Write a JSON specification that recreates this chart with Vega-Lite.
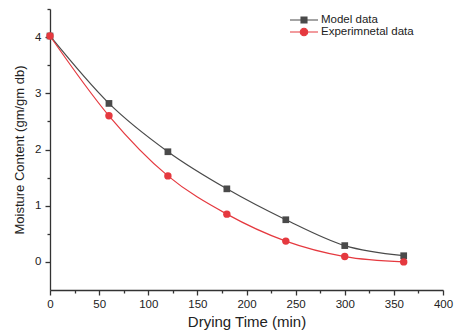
{
  "$schema": "https://vega.github.io/schema/vega-lite/v6.json",
  "width": 393,
  "height": 281,
  "autosize": "none",
  "padding": {"left": 50, "top": 9, "right": 15, "bottom": 46},
  "background": "white",
  "config": {
    "view": {"stroke": null},
    "font": "Liberation Sans",
    "axis": {
      "grid": false,
      "domainColor": "#333333",
      "domainWidth": 1.3,
      "tickColor": "#333333",
      "tickWidth": 1.3,
      "labelFont": "Liberation Sans",
      "labelFontSize": 11.5,
      "labelColor": "#222222",
      "titleFont": "Liberation Sans",
      "titleFontWeight": "normal",
      "titleColor": "#222222",
      "labelOverlap": false,
      "labelFlush": false
    }
  },
  "data": {
    "values": [
      {"t": 0, "mc": 4.02, "series": "Model data"},
      {"t": 60, "mc": 2.82, "series": "Model data"},
      {"t": 120, "mc": 1.96, "series": "Model data"},
      {"t": 180, "mc": 1.30, "series": "Model data"},
      {"t": 240, "mc": 0.75, "series": "Model data"},
      {"t": 300, "mc": 0.29, "series": "Model data"},
      {"t": 360, "mc": 0.11, "series": "Model data"},
      {"t": 0, "mc": 4.02, "series": "Experimnetal data"},
      {"t": 60, "mc": 2.60, "series": "Experimnetal data"},
      {"t": 120, "mc": 1.53, "series": "Experimnetal data"},
      {"t": 180, "mc": 0.85, "series": "Experimnetal data"},
      {"t": 240, "mc": 0.37, "series": "Experimnetal data"},
      {"t": 300, "mc": 0.095, "series": "Experimnetal data"},
      {"t": 360, "mc": 0.0, "series": "Experimnetal data"}
    ]
  },
  "encoding": {
    "x": {
      "field": "t", "type": "quantitative",
      "scale": {"domain": [0, 400], "nice": false, "zero": false},
      "axis": {
        "title": "Drying Time (min)",
        "titleFontSize": 15,
        "values": [0,25,50,75,100,125,150,175,200,225,250,275,300,325,350,375,400],
        "labelExpr": "datum.value % 50 === 0 ? datum.label : ''",
        "tickSize": {"condition": {"test": "datum.value % 50 === 0", "value": 5}, "value": 3},
        "labelPadding": 3,
        "titlePadding": 5
      }
    },
    "y": {
      "field": "mc", "type": "quantitative",
      "scale": {"domain": [-0.5, 4.5], "nice": false, "zero": false},
      "axis": {
        "title": "Moisture Content (gm/gm db)",
        "titleFontSize": 13,
        "values": [0,0.5,1,1.5,2,2.5,3,3.5,4,4.5],
        "format": "~g",
        "labelExpr": "datum.value % 1 === 0 ? datum.label : ''",
        "tickSize": {"condition": {"test": "datum.value % 1 === 0", "value": 5}, "value": 3},
        "labelPadding": 4,
        "titlePadding": 8
      }
    },
    "color": {
      "field": "series", "type": "nominal",
      "scale": {"domain": ["Model data", "Experimnetal data"], "range": ["#4a4a4a", "#e5393f"]}
    }
  },
  "layer": [
    {
      "mark": {"type": "line", "interpolate": "monotone", "strokeWidth": 1.2}
    },
    {
      "transform": [{"filter": "datum.series === 'Model data'"}],
      "mark": {"type": "point", "shape": "square", "filled": true, "size": 45, "opacity": 1, "color": "#333333"}
    },
    {
      "transform": [{"filter": "datum.series === 'Experimnetal data'"}],
      "mark": {"type": "point", "shape": "circle", "filled": true, "size": 55, "opacity": 1}
    },
    {
      "transform": [{"filter": "false"}],
      "mark": {"type": "point", "filled": true, "opacity": 1},
      "encoding": {
        "shape": {
          "field": "series", "type": "nominal",
          "scale": {
            "domain": ["Model data", "Experimnetal data"],
            "range": [
              "M-2.8,0H2.8M-0.6,-0.6H0.6V0.6H-0.6Z",
              "M-2.8,0H2.8M0.75,0A0.75,0.75,0,1,1,-0.75,0A0.75,0.75,0,1,1,0.75,0Z"
            ]
          },
          "legend": {
            "title": null,
            "orient": "none",
            "legendX": 248,
            "legendY": 5,
            "symbolSize": 100,
            "symbolStrokeWidth": 1.1,
            "labelOffset": 11,
            "labelFontSize": 11.5,
            "labelFont": "Liberation Sans",
            "labelColor": "#222222",
            "rowPadding": -1.5,
            "padding": 0,
            "encode": {
              "symbols": {"update": {"stroke": {"scale": "color", "field": "value"}, "fill": {"scale": "color", "field": "value"}}}
            }
          }
        }
      }
    }
  ]
}
